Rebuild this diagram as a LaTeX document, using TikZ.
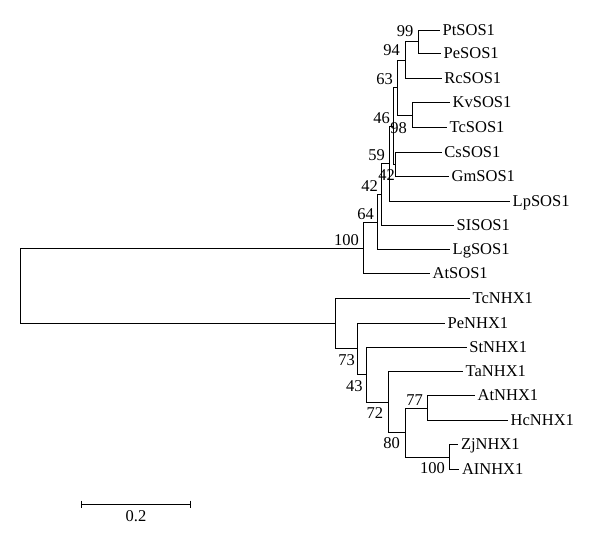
\documentclass[tikz,border=0pt]{standalone}
\usepackage{fontspec}
\setmainfont{Liberation Serif}
\begin{document}
\begin{tikzpicture}[x=1pt,y=-1pt,
  br/.style={line width=1.5pt},
  leaf/.style={anchor=west, inner xsep=2.5pt, inner ysep=0pt, text height=10.6pt, text depth=0pt, font=\fontsize{16.5}{19}\selectfont},
  bs/.style={anchor=base east, inner sep=0pt, font=\fontsize{16.5}{19}\selectfont}]
\useasboundingbox (0,0) rectangle (600,547);
% internal nodes
\coordinate (R) at (20.5,285.5);
\coordinate (S) at (363.5,248.5);
\coordinate (E) at (377.5,222.5);
\coordinate (F) at (381.5,194.5);
\coordinate (I) at (389.5,163.5);
\coordinate (J) at (393.5,126.5);
\coordinate (C) at (397.5,87.5);
\coordinate (B) at (405.5,60.5);
\coordinate (A) at (418.5,41.5);
\coordinate (D) at (412.5,115.5);
\coordinate (H) at (395.5,164.5);
\coordinate (N) at (335.5,323.5);
\coordinate (P) at (357.5,348.5);
\coordinate (Q) at (366.5,374.5);
\coordinate (T) at (388.5,402.5);
\coordinate (U) at (405.5,432.5);
\coordinate (V) at (427.5,408.5);
\coordinate (W) at (449.5,457.5);
% leaves
\node[leaf] (pt) at (440,30.5) {PtSOS1};
\node[leaf] (pe) at (441,53.5) {PeSOS1};
\node[leaf] (rc) at (441.7,78.5) {RcSOS1};
\node[leaf] (kv) at (450,102.5) {KvSOS1};
\node[leaf] (tc) at (447,127.5) {TcSOS1};
\node[leaf] (cs) at (441.7,152.5) {CsSOS1};
\node[leaf] (gm) at (449,176.5) {GmSOS1};
\node[leaf] (lp) at (510,201.5) {LpSOS1};
\node[leaf] (sl) at (454,225.5) {SISOS1};
\node[leaf] (lg) at (450,249.5) {LgSOS1};
\node[leaf] (ats) at (430,273.5) {AtSOS1};
\node[leaf] (tcn) at (470,298.5) {TcNHX1};
\node[leaf] (pen) at (445,323.5) {PeNHX1};
\node[leaf] (stn) at (466.7,347.5) {StNHX1};
\node[leaf] (tan) at (463,371.5) {TaNHX1};
\node[leaf] (atn) at (475,395.5) {AtNHX1};
\node[leaf] (hcn) at (508,420.5) {HcNHX1};
\node[leaf] (zjn) at (458.3,444.5) {ZjNHX1};
\node[leaf] (aln) at (459.3,469.5) {AINHX1};
% branches
\draw[br] (R) |- (S);
\draw[br] (R) |- (N);
\draw[br] (S) |- (E);
\draw[br] (S) |- (ats.west);
\draw[br] (E) |- (F);
\draw[br] (E) |- (lg.west);
\draw[br] (F) |- (I);
\draw[br] (F) |- (sl.west);
\draw[br] (I) |- (J);
\draw[br] (I) |- (lp.west);
\draw[br] (J) |- (C);
\draw[br] (J) |- (H);
\draw[br] (H) |- (cs.west);
\draw[br] (H) |- (gm.west);
\draw[br] (C) |- (B);
\draw[br] (C) |- (D);
\draw[br] (D) |- (kv.west);
\draw[br] (D) |- (tc.west);
\draw[br] (B) |- (A);
\draw[br] (B) |- (rc.west);
\draw[br] (A) |- (pt.west);
\draw[br] (A) |- (pe.west);
\draw[br] (N) |- (tcn.west);
\draw[br] (N) |- (P);
\draw[br] (P) |- (pen.west);
\draw[br] (P) |- (Q);
\draw[br] (Q) |- (stn.west);
\draw[br] (Q) |- (T);
\draw[br] (T) |- (tan.west);
\draw[br] (T) |- (U);
\draw[br] (U) |- (V);
\draw[br] (U) |- (W);
\draw[br] (V) |- (atn.west);
\draw[br] (V) |- (hcn.west);
\draw[br] (W) |- (zjn.west);
\draw[br] (W) |- (aln.west);
% bootstrap values
\node[bs] (b1) at (413.5,36.7) {99};
\node[bs] (b2) at (400,55) {94};
\node[bs] (b3) at (393,84) {63};
\node[bs] (b4) at (390,123) {46};
\node[bs] (b5) at (407,133) {98};
\node[bs] (b6) at (385,160) {59};
\node[bs] (b7) at (395,180) {42};
\node[bs] (b8) at (378,191) {42};
\node[bs] (b9) at (374,219) {64};
\node[bs] (b10) at (359,245) {100};
\node[bs] (b11) at (355,365) {73};
\node[bs] (b12) at (362.7,391.7) {43};
\node[bs] (b13) at (383.3,418) {72};
\node[bs] (b14) at (400,448) {80};
\node[bs] (b15) at (423,405) {77};
\node[bs] (b16) at (445,473) {100};
% scale bar
\coordinate (s1) at (81.5,504.5);
\coordinate (s2) at (190.5,504.5);
\draw[br] (s1) -- (s2);
\draw[br] ([yshift=3.8pt]s1) -- ([yshift=-3.8pt]s1);
\draw[br] ([yshift=3.8pt]s2) -- ([yshift=-3.8pt]s2);
\node[anchor=base, inner sep=0pt, font=\fontsize{16.5}{19}\selectfont] (sc) at (136,521.7) {0.2};
\end{tikzpicture}
\end{document}
